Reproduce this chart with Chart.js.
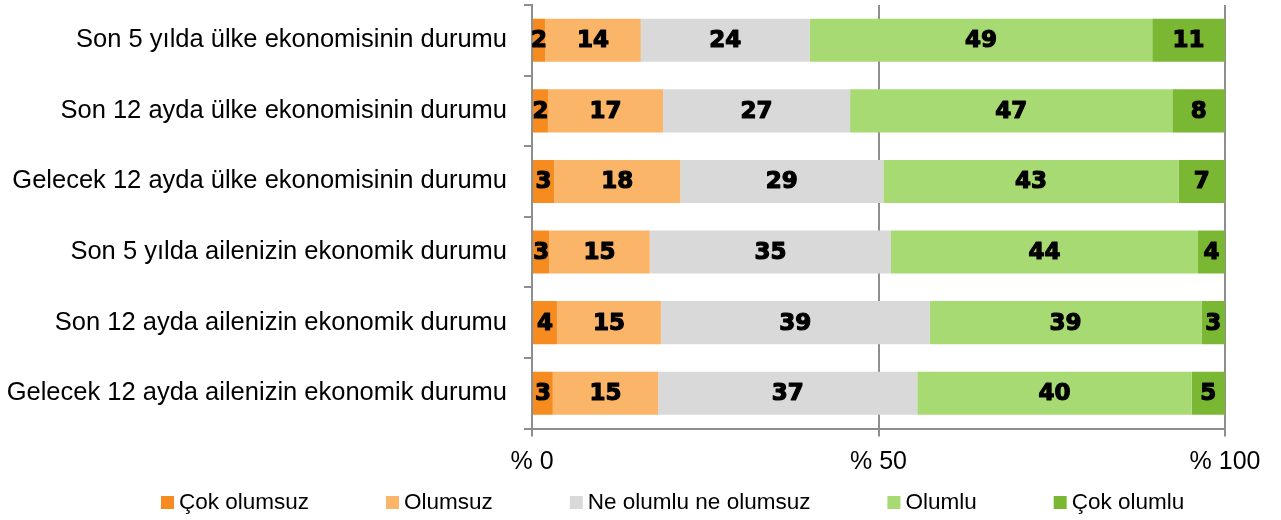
<!DOCTYPE html>
<html>
<head>
<meta charset="utf-8">
<script src="https://cdn.jsdelivr.net/npm/chart.js@4/dist/chart.umd.min.js"></script>
<style>
  body { margin: 0; background: #fff; }
  #kutu { width: 1281px; height: 520px; }
</style>
</head>
<body>
<div id="kutu"><canvas id="grafik" width="1281" height="520"></canvas></div>
<script>
const kategoriler = [
  'Son 5 yılda ülke ekonomisinin durumu',
  'Son 12 ayda ülke ekonomisinin durumu',
  'Gelecek 12 ayda ülke ekonomisinin durumu',
  'Son 5 yılda ailenizin ekonomik durumu',
  'Son 12 ayda ailenizin ekonomik durumu',
  'Gelecek 12 ayda ailenizin ekonomik durumu'
];
const seriAdlari = ['Çok olumsuz', 'Olumsuz', 'Ne olumlu ne olumsuz', 'Olumlu', 'Çok olumlu'];
const cokOlumsuz = [1.9, 2.3, 3.2, 2.5, 3.6, 3.0];
const olumsuz = [13.8, 16.6, 18.2, 14.5, 15.0, 15.2];
const neOlumluNeOlumsuz = [24.4, 27.0, 29.3, 34.8, 38.8, 37.4];
const olumlu = [49.4, 46.5, 42.6, 44.3, 39.2, 39.6];
const cokOlumlu = [10.5, 7.6, 6.7, 3.9, 3.4, 4.8];
const xEtiketleri = ['% 0', '% 50', '% 100'];

const renkler = ['#F68B1F', '#FAB568', '#D9D9D9', '#A8DA74', '#7AB833'];
const seriler = [cokOlumsuz, olumsuz, neOlumluNeOlumsuz, olumlu, cokOlumlu];
const cizgiRengi = '#8E8E8E';

// değerleri çubukların ortasına yaz
const degerEtiketleri = {
  id: 'degerEtiketleri',
  afterDatasetsDraw(chart) {
    const ctx = chart.ctx;
    ctx.save();
    ctx.font = 'bold 23px "DejaVu Sans"';
    ctx.fillStyle = '#000';
    ctx.strokeStyle = '#000';
    ctx.lineWidth = 1.2;
    ctx.lineJoin = 'round';
    ctx.textAlign = 'center';
    ctx.textBaseline = 'middle';
    chart.data.datasets.forEach((ds, i) => {
      chart.getDatasetMeta(i).data.forEach((bar, j) => {
        const t = Math.round(ds.data[j]);
        const x = (bar.x + bar.base) / 2;
        ctx.strokeText(t, x, bar.y + 1);
        ctx.fillText(t, x, bar.y + 1);
      });
    });
    ctx.restore();
  }
};

// alttaki lejant
const altLejant = {
  id: 'altLejant',
  afterDraw(chart) {
    const ctx = chart.ctx;
    ctx.save();
    ctx.font = '22.5px "Liberation Sans"';
    ctx.textBaseline = 'middle';
    ctx.textAlign = 'left';
    let x = 161;
    const y = 503;
    chart.data.datasets.forEach(ds => {
      ctx.fillStyle = ds.backgroundColor;
      ctx.fillRect(x, y - 7, 13, 13);
      ctx.fillStyle = '#000';
      ctx.fillText(ds.label, x + 18, y);
      x += 18 + ctx.measureText(ds.label).width + 77;
    });
    ctx.restore();
  }
};

new Chart(document.getElementById('grafik'), {
  type: 'bar',
  data: {
    labels: kategoriler,
    datasets: seriler.map((data, i) => ({
      label: seriAdlari[i],
      data,
      backgroundColor: renkler[i],
      borderWidth: 0,
      categoryPercentage: 1,
      barPercentage: 0.61
    }))
  },
  options: {
    indexAxis: 'y',
    responsive: false,
    animation: false,
    layout: { padding: { left: 0, right: 56, top: 5, bottom: 40 } },
    plugins: {
      legend: { display: false },
      tooltip: { enabled: false }
    },
    scales: {
      x: {
        stacked: true,
        min: 0,
        max: 100,
        ticks: {
          stepSize: 50,
          callback: (v, i) => xEtiketleri[i],
          font: { family: '"Liberation Sans"', size: 25 },
          color: '#000',
          padding: 11,
          maxRotation: 0
        },
        grid: { color: cizgiRengi, lineWidth: 2, tickLength: 8 },
        border: { color: cizgiRengi, width: 2 },
        afterFit: s => { s.height = 51.5; s.paddingLeft = 0; s.paddingRight = 0; }
      },
      y: {
        stacked: true,
        ticks: {
          font: { family: '"Liberation Sans"', size: 25.5 },
          color: '#000',
          padding: 17,
          autoSkip: false
        },
        grid: { color: cizgiRengi, lineWidth: 2, tickLength: 8, drawOnChartArea: false, offset: true },
        border: { color: cizgiRengi, width: 2 },
        afterFit: s => { s.width = 532; s.paddingTop = 0; s.paddingBottom = 0; }
      }
    }
  },
  plugins: [degerEtiketleri, altLejant]
});
</script>
</body>
</html>
